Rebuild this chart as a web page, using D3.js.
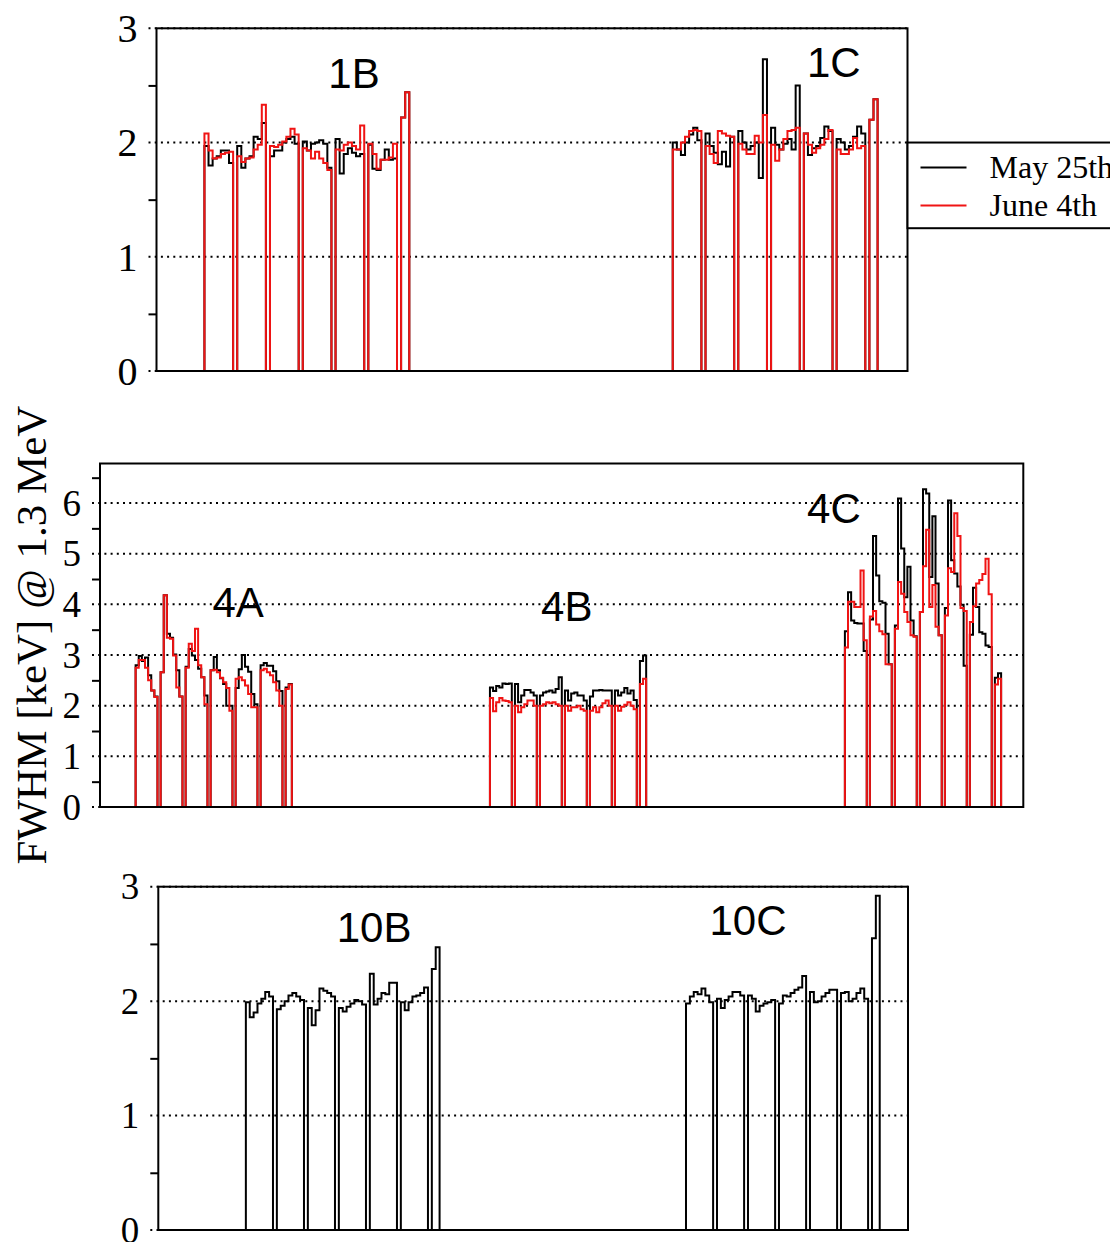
<!DOCTYPE html>
<html><head><meta charset="utf-8">
<script src="https://cdn.jsdelivr.net/npm/d3@7"></script>
<style>body{margin:0;background:#fff}svg{display:block}</style>
</head><body>
<svg id="chart" width="1110" height="1242"></svg>
<script>
// ---------- DATA (FWHM in keV per channel; each inner array = one segment) ----------
const seriesNames = ["May 25th", "June 4th"];
const groupNames = ["1B", "1C", "4A", "4B", "4C", "10B", "10C"];

const may1B = [
  [1.97, 1.80, 1.86, 1.88, 1.93, 1.93, 1.82],
  [1.97, 1.78, 1.86, 1.88, 2.05, 2.03, 2.17],
  [1.88, 1.93, 1.93, 2.00, 2.03, 2.05, 1.99],
  [2.01, 1.93, 1.99, 2.00, 2.02, 1.99, 1.78],
  [2.03, 1.73, 1.90, 1.95, 1.91, 1.88, 1.90],
  [1.98, 1.77, 1.76, 1.85, 1.94, 1.85, 1.86],
  [2.22, 2.44]
];
const june1B = [
  [2.08, 1.93, 1.86, 1.87, 1.90, 1.91, 1.92],
  [1.88, 1.83, 1.86, 1.87, 1.94, 1.98, 2.33],
  [1.97, 1.96, 1.98, 2.01, 2.05, 2.12, 2.07],
  [1.95, 1.93, 1.86, 1.92, 1.86, 1.82, 1.76],
  [1.94, 1.93, 1.98, 2.00, 1.97, 1.94, 2.15],
  [1.99, 1.90, 1.77, 1.85, 1.85, 1.87, 1.99],
  [2.22, 2.44]
];
const may1C = [
  [2.00, 1.94, 1.89, 2.00, 2.07, 2.13, 2.02],
  [2.08, 1.97, 1.91, 1.81, 1.92, 1.79, 2.05],
  [2.10, 2.00, 1.94, 1.97, 2.00, 1.69, 2.73],
  [2.13, 1.98, 1.94, 1.99, 2.03, 1.94, 2.50],
  [2.08, 1.89, 1.95, 1.97, 2.04, 2.14, 2.10],
  [2.03, 2.00, 1.94, 1.97, 2.05, 2.14, 2.08],
  [2.20, 2.38]
];
const june1C = [
  [1.94, 1.94, 2.00, 2.05, 2.10, 2.11, 2.10],
  [1.97, 1.90, 1.82, 2.10, 2.08, 2.06, 2.05],
  [1.99, 1.94, 1.90, 1.90, 2.06, 2.00, 2.24],
  [1.98, 1.84, 1.94, 2.03, 2.10, 2.11, 2.13],
  [2.08, 1.98, 1.91, 1.95, 1.98, 2.03, 2.11],
  [1.94, 1.90, 1.90, 1.94, 2.04, 1.95, 1.97],
  [2.20, 2.38]
];
const may4A = [
  [2.80, 2.98, 2.88, 2.95, 2.60, 2.30, 2.18],
  [2.66, 4.18, 3.42, 3.34, 3.01, 2.70, 2.18],
  [2.77, 3.12, 2.99, 2.90, 2.73, 2.56, 2.20],
  [2.70, 2.96, 2.70, 2.54, 2.43, 2.00, 2.00],
  [2.35, 2.72, 3.00, 2.77, 2.67, 2.23, 2.03],
  [2.80, 2.84, 2.79, 2.79, 2.68, 2.48, 2.29],
  [2.36, 2.43]
];
const june4A = [
  [2.75, 2.90, 2.90, 2.75, 2.50, 2.30, 2.17],
  [2.66, 4.18, 3.34, 3.32, 2.99, 2.36, 2.18],
  [2.75, 3.22, 3.08, 3.52, 2.80, 2.56, 2.03],
  [2.70, 2.71, 2.66, 2.55, 2.46, 2.35, 1.90],
  [2.53, 2.56, 2.50, 2.40, 2.23, 1.97, 1.97],
  [2.70, 2.73, 2.66, 2.60, 2.46, 2.30, 2.00],
  [2.33, 2.42]
];
const may4B = [
  [2.36, 2.29, 2.39, 2.36, 2.44, 2.43, 2.44],
  [2.43, 2.07, 2.20, 2.31, 2.31, 2.26, 2.20],
  [2.20, 2.26, 2.28, 2.30, 2.26, 2.33, 2.56],
  [2.30, 2.10, 2.24, 2.26, 2.20, 2.20, 2.10],
  [2.18, 2.30, 2.30, 2.31, 2.30, 2.30, 2.30],
  [2.30, 2.20, 2.26, 2.35, 2.24, 2.30, 2.11],
  [2.88, 2.99]
];
const june4B = [
  [2.15, 1.89, 2.07, 2.15, 2.10, 2.09, 2.07],
  [2.00, 1.87, 1.97, 2.03, 2.10, 2.10, 2.00],
  [2.00, 2.03, 2.07, 2.05, 2.07, 2.03, 2.00],
  [2.00, 1.90, 1.97, 1.97, 2.00, 1.93, 1.90],
  [1.90, 1.97, 1.87, 1.97, 2.05, 2.10, 2.00],
  [2.00, 1.90, 1.98, 2.02, 2.07, 2.00, 1.93],
  [2.43, 2.53]
];
const may4C = [
  [3.47, 4.24, 3.68, 3.63, 3.62, 3.62, 3.08],
  [3.70, 5.35, 4.57, 4.06, 4.03, 3.42, 2.82],
  [3.58, 6.09, 5.10, 4.14, 4.74, 3.68, 3.37],
  [3.85, 6.27, 6.19, 4.54, 5.74, 4.41, 3.39],
  [3.93, 6.05, 4.87, 4.61, 4.35, 3.99, 2.79],
  [3.40, 4.33, 3.95, 3.45, 3.42, 3.19, 3.16],
  [2.55, 2.64]
];
const june4C = [
  [3.15, 4.05, 4.05, 3.95, 3.95, 4.67, 3.29],
  [3.76, 3.87, 3.60, 3.47, 3.41, 2.82, 2.82],
  [3.52, 4.44, 4.21, 3.85, 3.65, 3.39, 3.36],
  [3.85, 4.75, 5.47, 3.95, 4.38, 3.56, 3.39],
  [3.78, 4.71, 4.64, 5.80, 5.35, 3.93, 3.87],
  [3.65, 3.96, 4.41, 4.48, 4.60, 4.90, 4.20],
  [2.42, 2.53]
];
const may10B = [
  [1.99, 1.86, 1.90, 1.98, 2.02, 2.08, 2.04],
  [1.93, 1.96, 2.00, 2.05, 2.07, 2.04, 2.01],
  [1.94, 1.79, 1.92, 2.11, 2.09, 2.07, 2.04],
  [1.94, 1.91, 1.95, 1.98, 2.01, 2.00, 1.97],
  [2.24, 1.97, 2.02, 2.07, 2.06, 2.16, 2.16],
  [1.99, 1.92, 1.99, 2.04, 2.05, 2.07, 2.12],
  [2.28, 2.47]
];
const may10C = [
  [1.98, 2.04, 2.08, 2.06, 2.11, 2.05, 1.99],
  [2.02, 1.94, 2.01, 2.04, 2.08, 2.08, 2.05],
  [2.05, 2.02, 1.91, 1.96, 1.98, 1.99, 2.01],
  [1.98, 2.05, 2.04, 2.07, 2.10, 2.12, 2.22],
  [2.08, 1.99, 2.00, 2.04, 2.07, 2.10, 2.10],
  [2.07, 2.08, 2.00, 2.02, 2.07, 2.11, 2.02],
  [2.55, 2.92]
];

const yTicksTop = [0, 1, 2, 3];
const yTicksMid = [0, 1, 2, 3, 4, 5, 6];
const yTicksBot = [0, 1, 2, 3];
const yTitle = "FWHM [keV] @ 1.3 MeV";

// ---------- LAYOUT ----------
const RED = "#f01414", BLACK = "#000";
const SERIF = "'Liberation Serif','Times New Roman',serif";
const SANS = "'Liberation Sans',Arial,Helvetica,sans-serif";

const panels = [
  { left: 156.5, right: 907.5, top: 28.3, bottom: 371, xMax: 183.3, yMax: 3,
    ticks: yTicksTop, fs: 40,
    groups: [
      { name: groupNames[0], start: 11.7, may: may1B, june: june1B, lx: 48.2, ly: 2.48 },
      { name: groupNames[1], start: 126.0, may: may1C, june: june1C, lx: 165.3, ly: 2.57 }
    ] },
  { left: 100, right: 1023.3, top: 463.5, bottom: 807, xMax: 295.5, yMax: 6.78,
    ticks: yTicksMid, fs: 37,
    groups: [
      { name: groupNames[2], start: 11.4, may: may4A, june: june4A, lx: 44.2, ly: 3.75 },
      { name: groupNames[3], start: 124.8, may: may4B, june: june4B, lx: 149.4, ly: 3.67 },
      { name: groupNames[4], start: 238.4, may: may4C, june: june4C, lx: 234.9, ly: 5.6 }
    ] },
  { left: 158.3, right: 908, top: 886.7, bottom: 1230, xMax: 193.5, yMax: 3,
    ticks: yTicksBot, fs: 37,
    groups: [
      { name: groupNames[5], start: 22.6, may: may10B, june: null, lx: 55.7, ly: 2.52 },
      { name: groupNames[6], start: 136.2, may: may10C, june: null, lx: 152.2, ly: 2.58 }
    ] }
];

const svg = d3.select("#chart");

function segmentPoints(start, segs) {
  const out = [];
  let pos = start;
  segs.forEach(seg => {
    const pts = [[pos, 0]];
    seg.forEach((v, j) => pts.push([pos + j, v]));
    pts.push([pos + seg.length, 0]);
    out.push(pts);
    pos += seg.length + 1;
  });
  return out;
}

panels.forEach(p => {
  const x = d3.scaleLinear().domain([0, p.xMax]).range([p.left, p.right]);
  const y = d3.scaleLinear().domain([0, p.yMax]).range([p.bottom, p.top]);
  const g = svg.append("g");

  // dotted gridlines at integer ticks (extend slightly left of axis)
  g.selectAll("line.grid").data(p.ticks).join("line")
    .attr("x1", p.left - 8).attr("x2", p.right)
    .attr("y1", d => y(d)).attr("y2", d => y(d))
    .attr("stroke", "#000").attr("stroke-width", 2)
    .attr("stroke-dasharray", "2 4.2");

  // minor ticks at half units
  const half = d3.range(0.5, p.yMax, 1);
  const ax = d3.axisLeft(y).tickValues(half).tickSize(8).tickFormat("");
  const axg = g.append("g").attr("transform", `translate(${p.left},0)`).call(ax);
  axg.select(".domain").remove();
  axg.selectAll(".tick line").attr("stroke-width", 2);

  // tick labels
  g.selectAll("text.tl").data(p.ticks).join("text")
    .attr("x", p.left - 19).attr("y", d => y(d) + p.fs * 0.345)
    .attr("text-anchor", "end")
    .style("font-family", SERIF).style("font-size", p.fs + "px")
    .text(d => d);

  const line = d3.line().x(d => x(d[0])).y(d => y(d[1])).curve(d3.curveStepAfter);

  // histograms: May (black) first, June (red) on top
  p.groups.forEach(gr => {
    segmentPoints(gr.start, gr.may).forEach(pts => {
      g.append("path").attr("d", line(pts)).attr("fill", "none")
        .attr("stroke", BLACK).attr("stroke-width", 2);
    });
  });
  p.groups.forEach(gr => {
    if (!gr.june) return;
    segmentPoints(gr.start, gr.june).forEach(pts => {
      g.append("path").attr("d", line(pts)).attr("fill", "none")
        .attr("stroke", RED).attr("stroke-width", 2);
    });
  });

  // group labels
  p.groups.forEach(gr => {
    g.append("text").attr("x", x(gr.lx)).attr("y", y(gr.ly))
      .attr("text-anchor", "middle")
      .style("font-family", SANS).style("font-size", "42px")
      .text(gr.name);
  });

  // frame
  g.append("rect").attr("x", p.left).attr("y", p.top)
    .attr("width", p.right - p.left).attr("height", p.bottom - p.top)
    .attr("fill", "none").attr("stroke", "#000").attr("stroke-width", 2);
});

// legend (attached to top panel's right edge)
const P0 = panels[0];
const yTop = d3.scaleLinear().domain([0, P0.yMax]).range([P0.bottom, P0.top]);
const leg = svg.append("g");
const legTop = yTop(2), legBot = yTop(1.25);
leg.append("rect").attr("x", P0.right).attr("y", legTop)
  .attr("width", 260).attr("height", legBot - legTop)
  .attr("fill", "#fff").attr("stroke", "#000").attr("stroke-width", 2);
const legRows = [
  { name: seriesNames[0], color: BLACK },
  { name: seriesNames[1], color: RED }
];
legRows.forEach((r, i) => {
  const cy = legTop + 25 + i * 38;
  leg.append("line").attr("x1", P0.right + 13).attr("x2", P0.right + 59)
    .attr("y1", cy).attr("y2", cy).attr("stroke", r.color).attr("stroke-width", 2);
  leg.append("text").attr("x", P0.right + 82).attr("y", cy + 10)
    .style("font-family", SERIF).style("font-size", "32px").text(r.name);
});

// y-axis title
svg.append("text")
  .attr("transform", "translate(46,635) rotate(-90)")
  .attr("text-anchor", "middle")
  .style("font-family", SERIF).style("font-size", "43px")
  .text(yTitle);
</script>
</body></html>
